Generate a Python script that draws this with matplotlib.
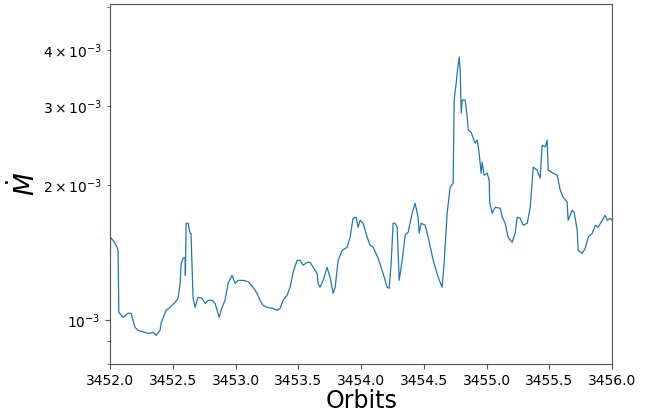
import matplotlib
matplotlib.use("Agg")
import matplotlib.pyplot as plt
import numpy as np

# orbit number and accretion rate (units of 1e-3)
orbits = [
    3452.000, 3452.004, 3452.030, 3452.056, 3452.064, 3452.070, 3452.104, 3452.143,
    3452.167, 3452.199, 3452.223, 3452.279, 3452.303, 3452.343, 3452.367, 3452.398,
    3452.406, 3452.446, 3452.478, 3452.518, 3452.542, 3452.558, 3452.566, 3452.582,
    3452.598, 3452.600, 3452.606, 3452.622, 3452.637, 3452.645, 3452.661, 3452.677,
    3452.701, 3452.733, 3452.757, 3452.781, 3452.813, 3452.837, 3452.853, 3452.869,
    3452.892, 3452.916, 3452.940, 3452.972, 3452.996, 3453.020, 3453.060, 3453.100,
    3453.139, 3453.171, 3453.195, 3453.219, 3453.251, 3453.291, 3453.331, 3453.355,
    3453.378, 3453.410, 3453.434, 3453.458, 3453.490, 3453.514, 3453.538, 3453.570,
    3453.594, 3453.618, 3453.649, 3453.657, 3453.673, 3453.697, 3453.729, 3453.753,
    3453.777, 3453.793, 3453.817, 3453.849, 3453.888, 3453.912, 3453.936, 3453.960,
    3453.976, 3453.992, 3454.016, 3454.048, 3454.072, 3454.096, 3454.135, 3454.175,
    3454.207, 3454.223, 3454.239, 3454.255, 3454.271, 3454.287, 3454.303, 3454.327,
    3454.351, 3454.375, 3454.406, 3454.430, 3454.454, 3454.462, 3454.478, 3454.510,
    3454.534, 3454.574, 3454.614, 3454.645, 3454.661, 3454.685, 3454.709, 3454.733,
    3454.741, 3454.757, 3454.765, 3454.781, 3454.789, 3454.797, 3454.805, 3454.829,
    3454.845, 3454.853, 3454.876, 3454.892, 3454.908, 3454.924, 3454.940, 3454.956,
    3454.964, 3454.980, 3455.004, 3455.020, 3455.024, 3455.044, 3455.068, 3455.108,
    3455.124, 3455.147, 3455.171, 3455.203, 3455.227, 3455.243, 3455.267, 3455.291,
    3455.323, 3455.347, 3455.363, 3455.371, 3455.402, 3455.426, 3455.442, 3455.466,
    3455.482, 3455.490, 3455.530, 3455.562, 3455.586, 3455.610, 3455.641, 3455.649,
    3455.681, 3455.697, 3455.721, 3455.729, 3455.761, 3455.785, 3455.809, 3455.841,
    3455.865, 3455.888, 3455.920, 3455.944, 3455.960, 3455.984, 3456.000,
]
mdot = [
    1.126, 1.532, 1.500, 1.455, 1.433, 1.042, 1.016, 1.037,
    1.037, 0.965, 0.950, 0.940, 0.935, 0.940, 0.926, 0.950,
    0.985, 1.053, 1.069, 1.097, 1.120, 1.209, 1.340, 1.375,
    1.382, 1.260, 1.646, 1.646, 1.564, 1.564, 1.126, 1.069,
    1.126, 1.120, 1.091, 1.108, 1.108, 1.091, 1.053, 1.016,
    1.069, 1.108, 1.209, 1.260, 1.209, 1.228, 1.228, 1.220,
    1.185, 1.149, 1.108, 1.080, 1.069, 1.064, 1.053, 1.064,
    1.108, 1.137, 1.185, 1.280, 1.361, 1.361, 1.327, 1.347,
    1.347, 1.313, 1.273, 1.209, 1.185, 1.228, 1.313, 1.247,
    1.149, 1.185, 1.361, 1.433, 1.455, 1.532, 1.689, 1.698,
    1.613, 1.672, 1.646, 1.532, 1.470, 1.455, 1.375, 1.273,
    1.185, 1.179, 1.340, 1.646, 1.646, 1.613, 1.228, 1.361,
    1.548, 1.572, 1.733, 1.824, 1.698, 1.564, 1.646, 1.630,
    1.532, 1.361, 1.247, 1.185, 1.340, 1.733, 1.981, 2.022,
    3.098, 3.381, 3.559, 3.864, 3.614, 2.898, 3.098, 3.098,
    2.839, 2.656, 2.628, 2.549, 2.484, 2.523, 2.360, 2.129,
    2.253, 2.107, 2.129, 2.053, 1.834, 1.733, 1.787, 1.778,
    1.698, 1.646, 1.532, 1.493, 1.564, 1.698, 1.689, 1.630,
    1.646, 1.787, 2.053, 2.196, 2.162, 2.075, 2.459, 2.434,
    2.523, 2.162, 2.129, 2.107, 1.950, 1.882, 1.834, 1.672,
    1.760, 1.742, 1.588, 1.433, 1.411, 1.447, 1.532, 1.564,
    1.630, 1.613, 1.672, 1.715, 1.672, 1.689, 1.672,
]

x = np.array(orbits)
y = np.array(mdot) * 1e-3

fig = plt.figure(figsize=(6.59, 4.13), dpi=100)
ax = fig.add_axes([0.167, 0.119, 0.762, 0.871])
ax.plot(x, y, color='#1f77b4', linewidth=0.9)
ax.set_yscale('log')
ax.set_xlim(3452.0, 3456.0)
ax.set_ylim(0.8e-3, 5.07e-3)
ax.tick_params(labelsize=10)
ax.tick_params(axis='both', which='both', color='#555555')
for s in ax.spines.values():
    s.set_color('#555555')
ax.set_xlabel('Orbits', fontsize=17, labelpad=1)
ax.set_ylabel(r'$\dot{M}$', fontsize=19, labelpad=2)

fig.savefig('out.png', dpi=100)
